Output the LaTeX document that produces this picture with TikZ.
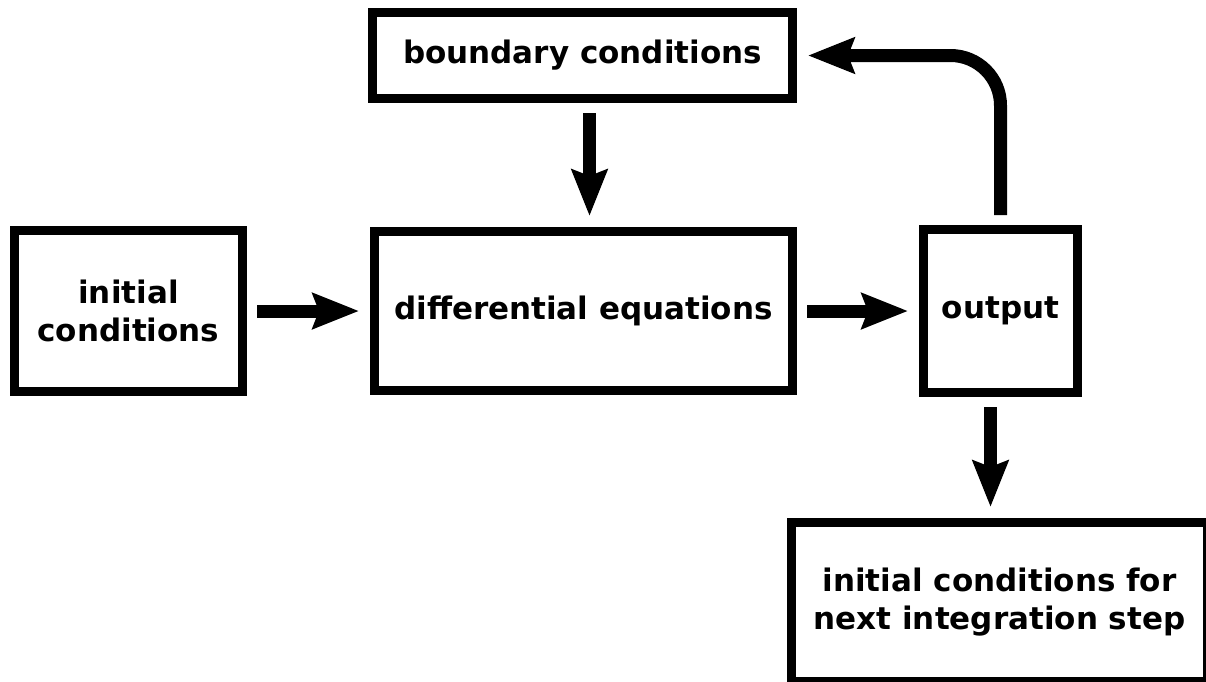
\documentclass[tikz,border=0pt]{standalone}
\usepackage{fontspec}
\setmainfont{DejaVu Sans}
\usepackage{tikz}
\usetikzlibrary{positioning, arrows.meta}

\begin{document}
\begin{tikzpicture}[
  x=0.5pt, y=-0.5pt,
  block/.style={draw, line width=4.5pt, align=center, inner sep=0pt,
    font=\fontsize{15.5}{19}\selectfont\bfseries},
  flow/.style={line width=6.5pt, -{Stealth[length=23pt, width=17.5pt, inset=3pt]},
    shorten <=5pt, shorten >=5.5pt}
]

% fester Rahmen wie im Original
\useasboundingbox (0,0) rectangle (1206,681);

% Bloecke
\node[block, minimum width=228pt/2, minimum height=161pt/2] (init) at (128.5,311)
  {initial\\conditions};
\node[block, minimum width=418pt/2, minimum height=159pt/2] (diff) at (583.5,311)
  {differential equations};
\node[block, minimum width=420pt/2, minimum height=86pt/2] (bc) at (582.5,55.5)
  {boundary conditions};
\node[block, minimum width=154pt/2, minimum height=163pt/2, right=61pt of diff] (out)
  {output};
\node[block, minimum width=416pt/2, minimum height=159pt/2] (next) at (999.5,602)
  {initial conditions for\\next integration step};

% Pfeile
\draw[flow] (init) -- (diff);
\draw[flow] (diff) -- (out);
\draw[flow] ([xshift=3.5pt]bc.south) -- ([xshift=3.5pt]bc.south |- diff.north);
\draw[flow] ([xshift=-5pt]out.south) -- ([xshift=-5pt]out.south |- next.north);

% Rueckfuehrung
\draw[flow, rounded corners=25pt] (out.north) |- (bc.east);

\end{tikzpicture}
\end{document}
